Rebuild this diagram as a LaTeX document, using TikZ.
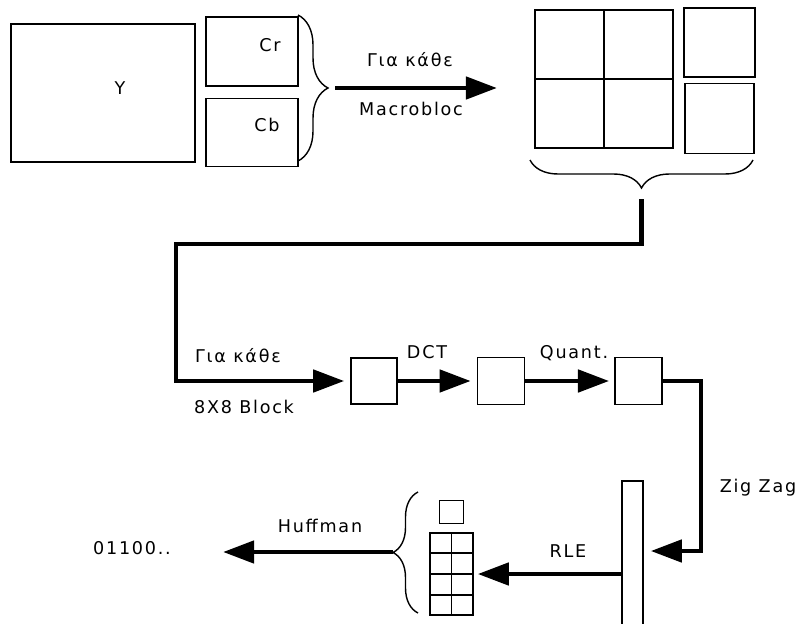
\documentclass[tikz,border=0pt]{standalone}
\usepackage{fontspec}
\newfontfamily\diagfont{DejaVu Sans}[LetterSpace=10]
\usetikzlibrary{arrows.meta, positioning, decorations.pathreplacing, calc}
\tikzset{
  blk/.style={rectangle, draw=black, line width=1pt, inner sep=0pt},
  grd/.style={line width=1pt},
  txt/.style={anchor=base, inner sep=0pt,
    font=\diagfont\fontsize{12.5}{15}\selectfont},
  flow/.style={-{Triangle[length=0.78cm, width=0.55cm]}, line width=3.5pt},
  brc/.style={decorate, decoration={brace, amplitude=#1}, line width=1pt},
  brc/.default=0.7cm,
}
\begin{document}
\begin{tikzpicture}[x=0.025cm, y=-0.025cm]
  \useasboundingbox (0,0) rectangle (800,623);
  % Y, Cr, Cb planes
  \node[blk, minimum width=4.6cm, minimum height=3.45cm] (yplane) at (103,93) {};
  \node[blk, minimum width=2.3cm, minimum height=1.725cm] (crplane) at (252,51.5) {};
  \node[blk, below=0.275cm of crplane, minimum width=2.3cm, minimum height=1.7cm] (cbplane) {};
  \node[txt] (ylbl) at (120,95) {Y};
  \node[txt] (crlbl) at (270,52) {Cr};
  \node[txt] (cblbl) at (267,132) {Cb};
  \coordinate (pb1) at (298,15);
  \coordinate (pb2) at (298,161);
  \draw[brc=0.75cm] (pb1) -- (pb2);
  \coordinate (pbt) at (335,88);
  \coordinate (mbin) at (497,88);
  \draw[flow] (pbt) -- (mbin);
  \node[txt] (mblbl1) at (410,67) {Για κάθε};
  \node[txt] (mblbl2) at (411,116) {Macrobloc};
  % macroblock
  \node[blk, minimum width=3.45cm, minimum height=3.45cm] (mb) at (604,79) {};
  \draw[grd] (mb.north) -- (mb.south) (mb.west) -- (mb.east);
  \node[blk, minimum width=1.775cm, minimum height=1.725cm] (crblk) at (719.5,42.5) {};
  \node[blk, below=0.125cm of crblk, minimum width=1.725cm, minimum height=1.75cm] (cbblk) {};
  \coordinate (gb1) at (753,160);
  \coordinate (gb2) at (530,160);
  \draw[brc=0.7cm] (gb1) -- (gb2);
  % 8x8 blocks
  \node[blk, minimum size=1.15cm] (b1) at (374,381) {};
  \node[blk, right=1.975cm of b1, minimum size=1.175cm] (b2) {};
  \node[blk, right=2.225cm of b2, minimum size=1.175cm] (b3) {};
  \coordinate (gbt) at (641.5,199);
  \coordinate (bend) at (176,244);
  \draw[flow, shorten >=0.15cm] (gbt) |- (bend) |- (b1.west);
  \draw[flow, shorten >=0.15cm] (b1) -- (b2);
  \draw[flow, shorten >=0.125cm] (b2) -- (b3);
  \node[txt] (blklbl1) at (238,362) {Για κάθε};
  \node[txt] (blklbl2) at (244,413) {8X8 Block};
  \node[txt] (dctlbl) at (427,358) {DCT};
  \node[txt] (qlbl) at (574,358) {Quant.};
  % zig zag scan
  \node[blk, minimum width=0.525cm, minimum height=3.625cm] (scan) at (632.5,553.5) {};
  \coordinate (zz) at (701,551);
  \draw[flow, shorten >=0.175cm] (b3.east) -| (zz) -- (zz -| scan.east);
  \node[txt] (zzlbl) at (758,492) {Zig Zag};
  % run lengths
  \node[blk, minimum width=1.075cm, minimum height=2.05cm] (runs) at (451.5,574) {};
  \draw[grd] (runs.north) -- (runs.south);
  \foreach \f in {0.25,0.5,0.75}
    \draw[grd] ($(runs.north west)!\f!(runs.south west)$) -- ($(runs.north east)!\f!(runs.south east)$);
  \node[blk, above=0.2cm of runs, minimum width=0.6cm, minimum height=0.575cm] (dc) {};
  \draw[flow, shorten >=0.1cm] (runs.east -| scan.west) -- (runs.east);
  \node[txt] (rlelbl) at (568,557) {RLE};
  % huffman
  \coordinate (hb1) at (418,613);
  \coordinate (hb2) at (418,492);
  \draw[brc=0.625cm] (hb1) -- (hb2);
  \coordinate (hbt) at (393,552);
  \coordinate (bitsin) at (223,552);
  \draw[flow] (hbt) -- (bitsin);
  \node[txt] (huflbl) at (320,532) {Huffman};
  \node[txt] (bits) at (132,554) {01100..};
\end{tikzpicture}
\end{document}
